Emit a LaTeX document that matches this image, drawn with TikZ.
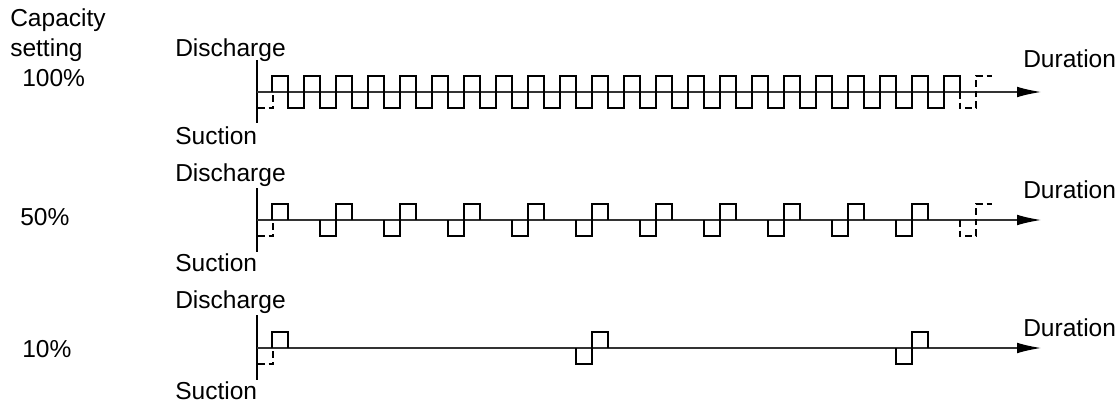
\documentclass[tikz,border=0pt]{standalone}
\usepackage{fontspec}
\setmainfont{Liberation Sans}
\usetikzlibrary{arrows.meta}
\definecolor{axisGray}{HTML}{333333}

\begin{document}
\begin{tikzpicture}[x=0.75pt, y=-0.75pt,
    every node/.style={font=\fontsize{18.4}{21}\selectfont, inner sep=0pt, anchor=base west},
    wave/.style={line width=1.4pt, line join=miter},
    hint/.style={wave, dash pattern=on 5pt off 3pt},
    axisline/.style={axisGray, line width=1pt, -{Latex[length=18pt, width=8pt, black]}},
    stem/.style={line width=0.9pt}]
  \useasboundingbox (0,0) rectangle (1119,406);
  % left column
  \node (cap) at (10,27) {Capacity};
  \node (set) at (10,57) {setting};
  \node (p100) at (22,87) {100\%};
  \node (p50) at (20,225) {50\%};
  \node (p10) at (22,357) {10\%};
  % row labels
  \foreach \r/\yd/\ys/\yt in {1/57/145/68, 2/181/271/198, 3/308/399/336} {
    \node (dis\r) at (175,\yd) {Discharge};
    \node (suc\r) at (175,\ys) {Suction};
    \node (dur\r) at (1023,\yt) {Duration};
  }
  % axes
  \foreach \r/\y/\ya/\yb in {1/92/60/123, 2/220/188/252, 3/348/315/380} {
    \coordinate (o\r) at (257,\y);
    \coordinate (e\r) at (1041,\y);
    \coordinate (top\r) at (257,\ya);
    \coordinate (bot\r) at (257,\yb);
    \draw[stem] (top\r) -- (bot\r);
    \draw[axisline] (o\r) -- (e\r);
    \draw[hint] ([xshift=0.75pt]o\r) ++(0,16) -- ++(15,0) -- ++(0,-16);
  }
  % 100%
  \draw[wave] (272,92) -- (272,76) foreach \k in {0,...,20} {
      -- ++(16,0) -- ++(0,32) -- ++(16,0) -- ++(0,-32)} -- ++(16,0) -- ++(0,16);
  \draw[hint] (960,92) -- (960,108) -- (976,108) -- (976,76) -- (992,76);
  % 50%
  \draw[wave] (272,220) -- (272,204) -- (288,204) -- (288,220);
  \foreach \k in {0,...,9}
    \draw[wave] (320+64*\k,220) -- ++(0,16) -- ++(16,0) -- ++(0,-32) -- ++(16,0) -- ++(0,16);
  \draw[hint] (960,220) -- (960,236) -- (976,236) -- (976,204) -- (992,204);
  % 10%
  \draw[wave] (272,348) -- (272,332) -- (288,332) -- (288,348);
  \foreach \x in {576,896}
    \draw[wave] (\x,348) -- ++(0,16) -- ++(16,0) -- ++(0,-32) -- ++(16,0) -- ++(0,16);
\end{tikzpicture}
\end{document}
